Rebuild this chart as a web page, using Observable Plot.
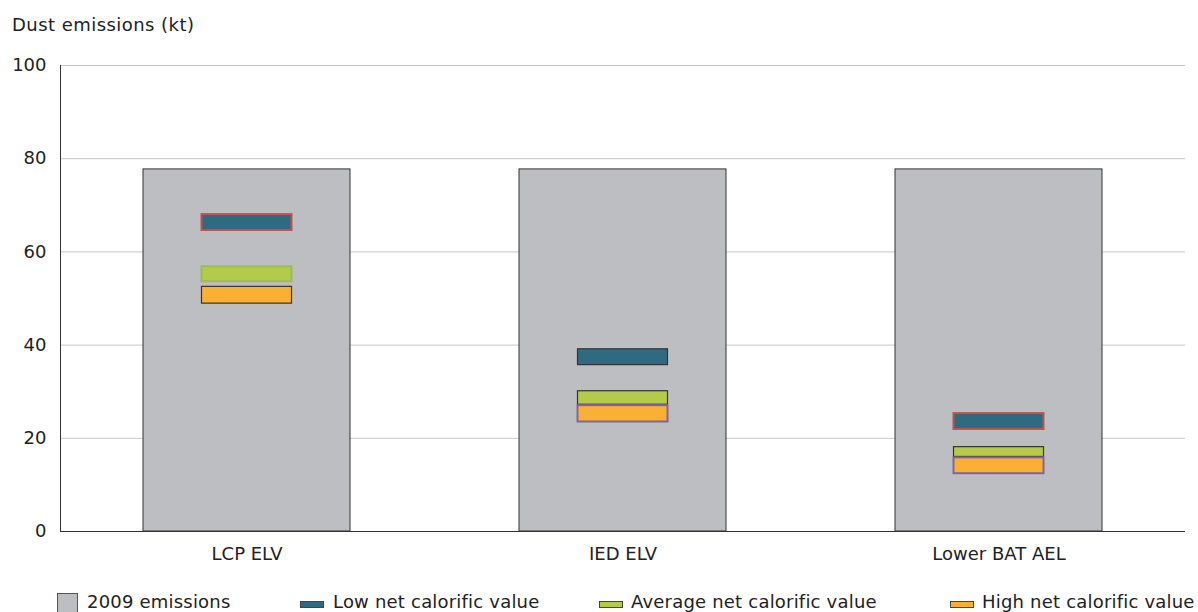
<!DOCTYPE html>
<html>
<head>
<meta charset="utf-8">
<script src="https://cdn.jsdelivr.net/npm/d3@7"></script>
<script src="https://cdn.jsdelivr.net/npm/@observablehq/plot@0.6"></script>
<style>
  html, body { margin: 0; padding: 0; background: #fff; }
  body { font-family: "DejaVu Sans", Verdana, sans-serif; color: #222; }
  #wrap { position: relative; width: 1198px; height: 612px; overflow: hidden; }
  #title { position: absolute; left: 12px; top: 16px; font-size: 18px; line-height: 18px; letter-spacing: 0.45px; white-space: nowrap; }
  .leg { position: absolute; font-size: 18px; line-height: 18px; letter-spacing: 0.2px; white-space: nowrap; top: 593px; }
  .sw { position: absolute; box-sizing: border-box; }
</style>
</head>
<body>
<div id="wrap">
  <div id="chart"></div>
  <div id="title">Dust emissions (kt)</div>
  <div id="legend"></div>
</div>
<script>
// ---- data ----
const categories = ["LCP ELV", "IED ELV", "Lower BAT AEL"];
const emissions2009 = [77.7, 77.7, 77.7];
const lowNcvMin = [64.6, 35.7, 21.9];
const lowNcvMax = [68.0, 39.1, 25.3];
const avgNcvMin = [53.6, 27.2, 16.0];
const avgNcvMax = [56.8, 30.1, 18.1];
const highNcvMin = [48.9, 23.5, 12.4];
const highNcvMax = [52.5, 27.0, 15.8];
const yTicks = [0, 20, 40, 60, 80, 100];
const gridTicks = [20, 40, 60, 80, 100];
const seriesNames = ["2009 emissions", "Low net calorific value", "Average net calorific value", "High net calorific value"];

// ---- styles ----
const barFill = "#bdbec2";
const seriesFill = ["#2e6a80", "#b3cb48", "#fcb033"];
// outline colours per series (rows) and category (columns), as in the original
const outline = [
  ["#c0504d", "#333333", "#c0504d"],
  ["#9bbb59", "#333333", "#333333"],
  ["#333333", "#8064a2", "#8064a2"]
];

const bars = categories.map((c, i) => ({category: c, value: emissions2009[i]}));
const ranges = [[lowNcvMin, lowNcvMax], [avgNcvMin, avgNcvMax], [highNcvMin, highNcvMax]].map(([lo, hi], s) =>
  categories.map((c, i) => ({
    category: c, lo: lo[i], hi: hi[i],
    stroke: outline[s][i],
    sw: outline[s][i] === "#333333" ? 1.2 : 2
  }))
);

const chart = Plot.plot({
  width: 1198,
  height: 575,
  marginLeft: 60,
  marginRight: 13,
  marginTop: 65,
  marginBottom: 44,
  style: {fontFamily: "DejaVu Sans, Verdana, sans-serif", fontSize: "18px", color: "#222", background: "#fff"},
  x: {domain: categories, paddingInner: 0.45, paddingOuter: 0.22, label: null, axis: null},
  y: {domain: [0, 100], label: null, axis: null},
  marks: [
    Plot.ruleY(gridTicks, {stroke: "#c8c8c8", strokeWidth: 1}),
    Plot.barY(bars, {x: "category", y: "value", fill: barFill, stroke: "#333", strokeWidth: 1}),
    ...ranges.map((data, s) => Plot.barY(data, {
      x: "category", y1: "lo", y2: "hi",
      fill: seriesFill[s], stroke: d => d.stroke, strokeWidth: d => d.sw,
      insetLeft: 58.5, insetRight: 58.5
    })),
    Plot.ruleY([0], {stroke: "#333", strokeWidth: 1}),
    Plot.frame({anchor: "left", stroke: "#333", strokeWidth: 1}),
    Plot.axisY({ticks: yTicks, tickSize: 0, tickPadding: 14, label: null, fill: "#222"}),
    Plot.axisX({tickSize: 0, tickPadding: 16, label: null, fill: "#222"})
  ]
});
document.getElementById("chart").appendChild(chart);

// ---- legend ----
const legend = document.getElementById("legend");
const legendItems = [
  {sw: {left: 57, top: 593, width: 21, height: 21, background: barFill, border: "1px solid #555"}, textLeft: 87},
  {sw: {left: 300, top: 601, width: 24, height: 7, background: seriesFill[0], border: "1px solid #444"}, textLeft: 333},
  {sw: {left: 599, top: 601, width: 24, height: 7, background: seriesFill[1], border: "1px solid #444"}, textLeft: 631},
  {sw: {left: 950, top: 601, width: 24, height: 7, background: seriesFill[2], border: "1px solid #444"}, textLeft: 982}
];
legendItems.forEach((it, i) => {
  const sw = document.createElement("div");
  sw.className = "sw";
  Object.assign(sw.style, {
    left: it.sw.left + "px", top: it.sw.top + "px", width: it.sw.width + "px", height: it.sw.height + "px",
    background: it.sw.background, border: it.sw.border
  });
  legend.appendChild(sw);
  const t = document.createElement("div");
  t.className = "leg";
  t.style.left = it.textLeft + "px";
  t.textContent = seriesNames[i];
  legend.appendChild(t);
});
</script>
</body>
</html>
